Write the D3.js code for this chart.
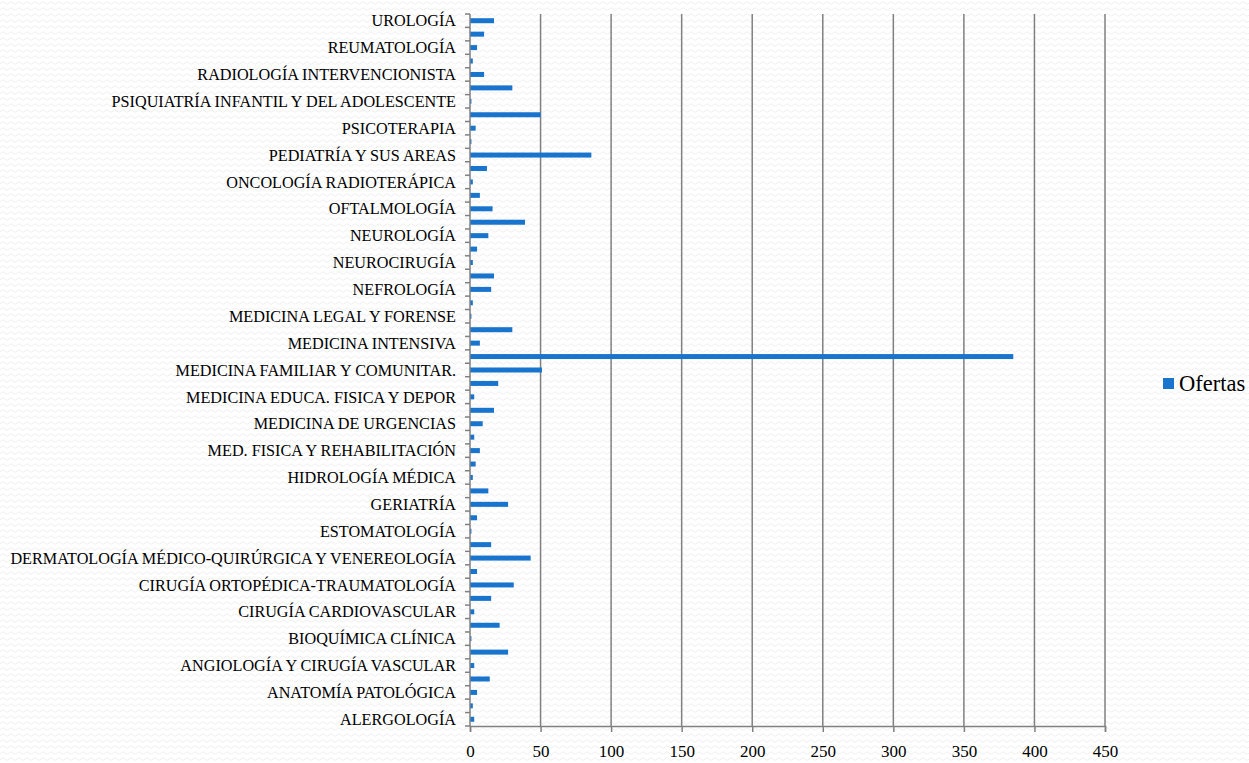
<!DOCTYPE html>
<html>
<head>
<meta charset="utf-8">
<script src="https://cdn.jsdelivr.net/npm/d3@7"></script>
<style>
  html, body { margin: 0; padding: 0; background: #ffffff; }
  svg { display: block; }
</style>
</head>
<body>
<svg id="chart" width="1249" height="763"></svg>
<script>
// Categories listed bottom to top (every other one shows its label)
const categories = [
  "ALERGOLOGÍA",
  "ANÁLISIS CLÍNICOS",
  "ANATOMÍA PATOLÓGICA",
  "ANESTESIOLOGÍA Y REANIMACIÓN",
  "ANGIOLOGÍA Y CIRUGÍA VASCULAR",
  "APARATO DIGESTIVO",
  "BIOQUÍMICA CLÍNICA",
  "CARDIOLOGÍA",
  "CIRUGÍA CARDIOVASCULAR",
  "CIRUGÍA GENERAL Y DEL APARATO DIGESTIVO",
  "CIRUGÍA ORTOPÉDICA-TRAUMATOLOGÍA",
  "CIRUGÍA PLÁSTICA, ESTÉTICA Y REPARADORA",
  "DERMATOLOGÍA MÉDICO-QUIRÚRGICA Y VENEREOLOGÍA",
  "ENDOCRINOLOGÍA Y NUTRICIÓN",
  "ESTOMATOLOGÍA",
  "FARMACOLOGÍA CLÍNICA",
  "GERIATRÍA",
  "HEMATOLOGÍA Y HEMOTERAPIA",
  "HIDROLOGÍA MÉDICA",
  "INMUNOLOGÍA",
  "MED. FISICA Y REHABILITACIÓN",
  "MED. DEL DEPORTE",
  "MEDICINA DE URGENCIAS",
  "MEDICINA DEL TRABAJO",
  "MEDICINA EDUCA. FISICA Y DEPOR",
  "MEDICINA ESCOLAR",
  "MEDICINA FAMILIAR Y COMUNITAR.",
  "MEDICINA FAMILIAR Y COMUNITARIA",
  "MEDICINA INTENSIVA",
  "MEDICINA INTERNA",
  "MEDICINA LEGAL Y FORENSE",
  "MEDICINA NUCLEAR",
  "NEFROLOGÍA",
  "NEUMOLOGÍA",
  "NEUROCIRUGÍA",
  "NEUROFISIOLOGÍA CLÍNICA",
  "NEUROLOGÍA",
  "OBSTETRICIA Y GINECOLOGÍA",
  "OFTALMOLOGÍA",
  "ONCOLOGÍA MÉDICA",
  "ONCOLOGÍA RADIOTERÁPICA",
  "OTORRINOLARINGOLOGÍA",
  "PEDIATRÍA Y SUS AREAS",
  "PSICOLOGÍA CLÍNICA",
  "PSICOTERAPIA",
  "PSIQUIATRÍA",
  "PSIQUIATRÍA INFANTIL Y DEL ADOLESCENTE",
  "RADIODIAGNÓSTICO",
  "RADIOLOGÍA INTERVENCIONISTA",
  "RADIOFÍSICA HOSPITALARIA",
  "REUMATOLOGÍA",
  "TRAUMATOLOGÍA",
  "UROLOGÍA"
];
const ofertas = [
  3, 2, 5, 14, 3, 27, 1, 21, 3, 15,
  31, 5, 43, 15, 1, 5, 27, 13, 2, 4,
  7, 3, 9, 17, 3, 20, 51, 385, 7, 30,
  1, 2, 15, 17, 2, 5, 13, 39, 16, 7,
  2, 12, 86, 1, 4, 50, 1, 30, 10, 2,
  5, 10, 17
];
const seriesName = "Ofertas";
const xTicks = [0, 50, 100, 150, 200, 250, 300, 350, 400, 450];

(function () {
  const svg = d3.select("#chart");
  const W = 1249, H = 763;
  const pLeft = 470, pRight = 1105, pTop = 14, pBottom = 726;
  const serif = "'Liberation Serif', 'DejaVu Serif', serif";

  // background wavy pattern
  const defs = svg.append("defs");
  const pat = defs.append("pattern").attr("id", "wave").attr("patternUnits", "userSpaceOnUse")
    .attr("width", 8).attr("height", 6);
  pat.append("rect").attr("width", 8).attr("height", 6).attr("fill", "#ffffff");
  pat.append("path").attr("d", "M0,4 L2,2 L4,2 L6,4 L8,4")
    .attr("fill", "none").attr("stroke", "#efefef").attr("stroke-width", 1);
  svg.append("rect").attr("width", W).attr("height", H).attr("fill", "url(#wave)");

  const x = d3.scaleLinear().domain([0, 450]).range([pLeft, pRight]);
  const y = d3.scaleBand().domain(categories).range([pBottom, pTop]).padding(0);
  const step = y.step();
  const barH = 5;

  // vertical gridlines
  svg.append("g").selectAll("line").data(xTicks.filter(d => d > 0)).join("line")
    .attr("x1", d => x(d)).attr("x2", d => x(d))
    .attr("y1", pTop).attr("y2", pBottom)
    .attr("stroke", "#808080").attr("stroke-width", 1.5);

  // bars
  svg.append("g").selectAll("rect").data(categories).join("rect")
    .attr("x", x(0))
    .attr("y", d => y(d) + step / 2 - barH / 2)
    .attr("width", (d, i) => x(ofertas[i]) - x(0))
    .attr("height", barH)
    .attr("fill", "#1874cd");

  // x axis
  const xAxis = d3.axisBottom(x).tickValues(xTicks).tickSize(6).tickPadding(10);
  const gx = svg.append("g").attr("transform", `translate(0,${pBottom})`).call(xAxis);
  gx.attr("font-family", serif).attr("font-size", 17);
  gx.select(".domain").attr("stroke", "#808080").attr("stroke-width", 1.5);
  gx.selectAll(".tick line").attr("stroke", "#808080").attr("stroke-width", 1.5);
  gx.selectAll(".tick text").style("font-family", serif).style("font-size", "17px")
    .attr("fill", "#000").attr("y", 31).attr("dy", 0);

  // y axis: tick marks at every category boundary
  const boundaries = d3.range(categories.length + 1).map(i => pBottom - i * step);
  svg.append("g").selectAll("line").data(boundaries).join("line")
    .attr("x1", pLeft - 5).attr("x2", pLeft)
    .attr("y1", d => d).attr("y2", d => d)
    .attr("stroke", "#808080").attr("stroke-width", 1.5);
  svg.append("line").attr("x1", pLeft).attr("x2", pLeft).attr("y1", pTop).attr("y2", pBottom)
    .attr("stroke", "#808080").attr("stroke-width", 1.5);

  // y labels (every other category)
  svg.append("g").selectAll("text").data(categories.filter((d, i) => i % 2 === 0)).join("text")
    .attr("x", 456)
    .attr("y", d => y(d) + step / 2)
    .attr("dy", "0.35em")
    .attr("text-anchor", "end")
    .style("font-family", serif)
    .style("font-size", "16.2px")
    .attr("fill", "#000")
    .text(d => d);

  // legend
  const lg = svg.append("g");
  lg.append("rect").attr("x", 1163).attr("y", 378).attr("width", 11).attr("height", 11).attr("fill", "#1874cd");
  lg.append("text").attr("x", 1179).attr("y", 391)
    .style("font-family", serif).style("font-size", "22.5px")
    .attr("fill", "#000").text(seriesName);
})();
</script>
</body>
</html>
